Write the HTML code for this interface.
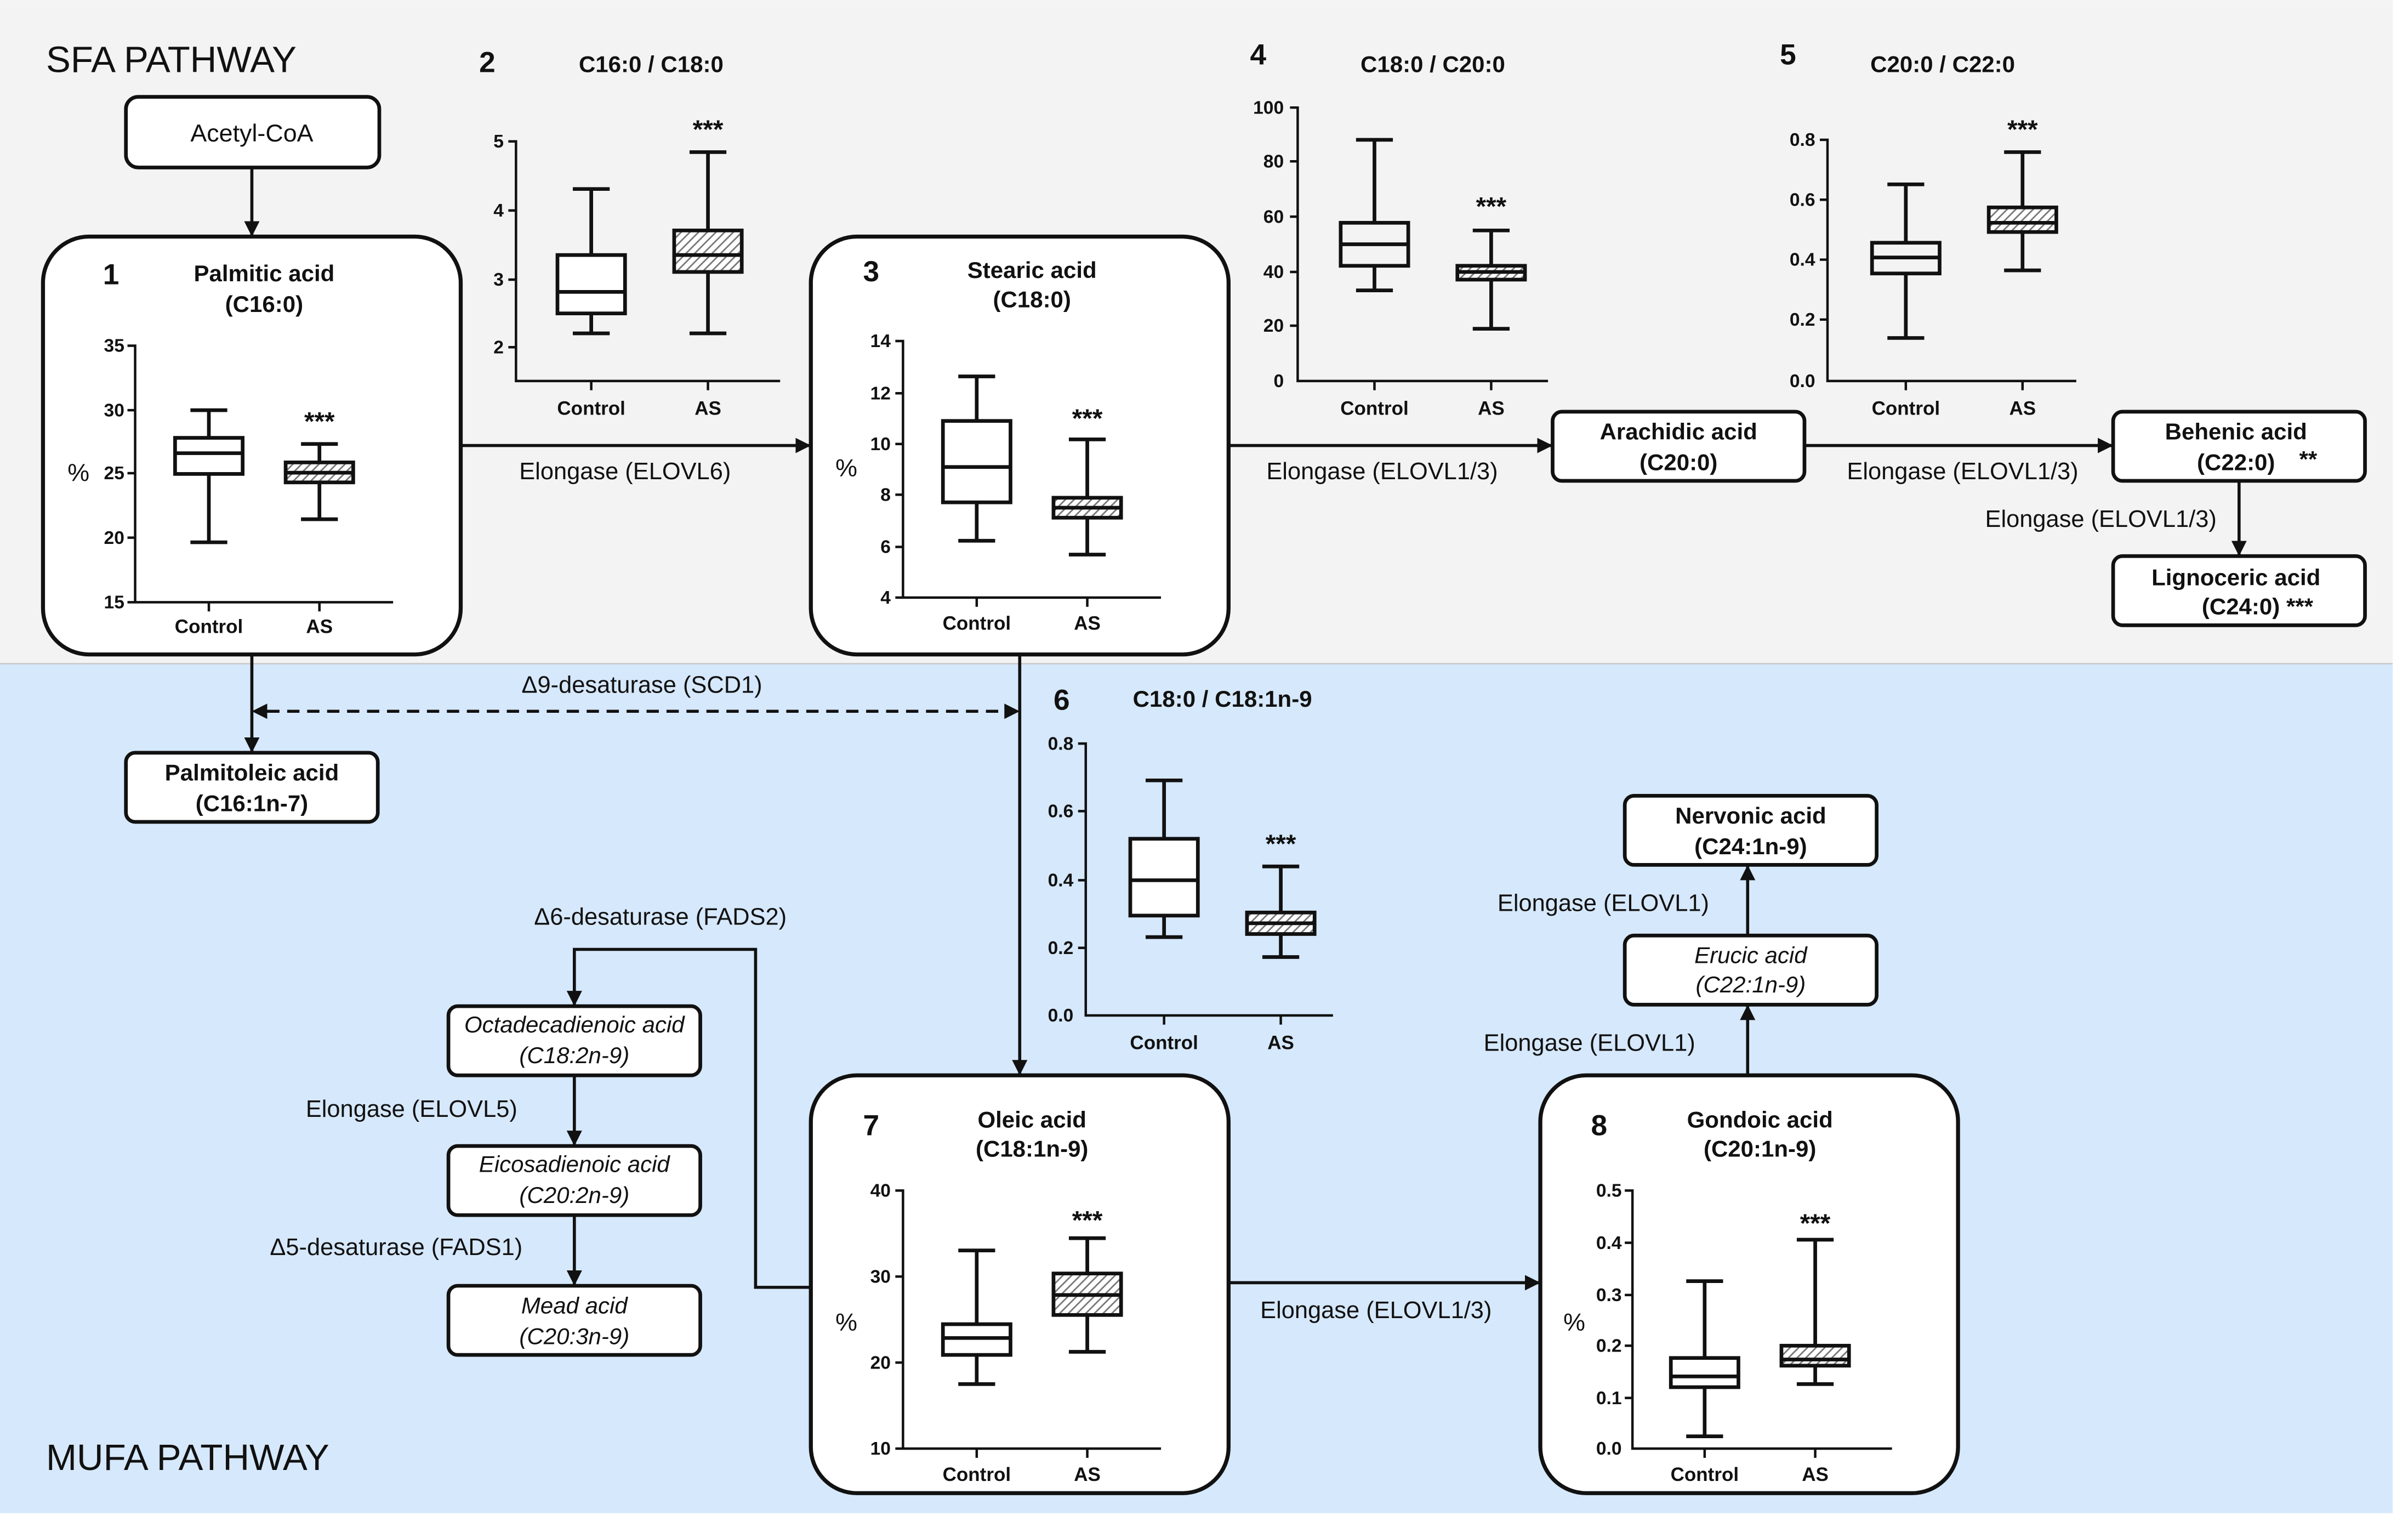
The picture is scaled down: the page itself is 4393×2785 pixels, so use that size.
<!DOCTYPE html>
<html><head><meta charset="utf-8"><style>
html,body{margin:0;padding:0;background:#fff}
svg{display:block}
text{font-family:"Liberation Sans",Arial,sans-serif;fill:#111}
.b{font-weight:bold}
.t{font-size:15px;font-weight:bold;text-anchor:middle}
.n{font-size:19px;font-weight:bold}
.l{font-size:15.5px;text-anchor:middle}
.tk{font-size:12px;font-weight:bold;text-anchor:end}
.xl{font-size:12.5px;font-weight:bold;text-anchor:middle}
.st{font-size:17px;font-weight:bold;text-anchor:middle}
.nd{font-size:15px;font-weight:bold;text-anchor:middle}
.it{font-size:15px;font-style:italic;text-anchor:middle}
.ax{stroke:#111;stroke-width:1.6;fill:none}
.bx{stroke:#111;stroke-width:2.4;fill:none}
.pn{stroke:#111;stroke-width:2.6;fill:#fff}
.nb{stroke:#111;stroke-width:2.4;fill:#fff}
.ln{stroke:#111;stroke-width:2;fill:none}
</style></head><body>
<svg width="4393" height="2785" viewBox="0 0 1568 994" xmlns="http://www.w3.org/2000/svg">
<defs>
<pattern id="h" width="4" height="4" patternUnits="userSpaceOnUse" patternTransform="rotate(45)">
<rect width="4" height="4" fill="#fff"/><line x1="0" y1="0" x2="0" y2="4" stroke="#777" stroke-width="2"/>
</pattern>
<marker id="a" markerWidth="10" markerHeight="10" refX="9" refY="5" orient="auto" markerUnits="userSpaceOnUse">
<path d="M0,0 L10,5 L0,10 z" fill="#111"/></marker>
</defs>
<rect x="0" y="0" width="1558" height="432" fill="#f3f3f3"/>
<rect x="0" y="432" width="1558" height="553" fill="#d6e8fb"/>
<line x1="0" y1="432" x2="1558" y2="432" stroke="#ccc" stroke-width="1"/>

<text x="30" y="47" style="font-size:24px">SFA PATHWAY</text>
<text x="30" y="957" style="font-size:24px">MUFA PATHWAY</text>

<!-- connectors -->
<line class="ln" x1="164" y1="109" x2="164" y2="153" marker-end="url(#a)"/>
<line class="ln" x1="164" y1="426" x2="164" y2="489" marker-end="url(#a)"/>
<line class="ln" x1="174" y1="463" x2="654" y2="463" stroke-dasharray="8,5"/>
<path d="M164,463 L174,458 L174,468 z" fill="#111"/>
<path d="M664,463 L654,458 L654,468 z" fill="#111"/>
<text class="l" x="418" y="451">Δ9-desaturase (SCD1)</text>
<line class="ln" x1="664" y1="426" x2="664" y2="699" marker-end="url(#a)"/>
<line class="ln" x1="300" y1="290" x2="527" y2="290" marker-end="url(#a)"/>
<text class="l" x="407" y="312">Elongase (ELOVL6)</text>
<line class="ln" x1="800" y1="290" x2="1010" y2="290" marker-end="url(#a)"/>
<text class="l" x="900" y="312">Elongase (ELOVL1/3)</text>
<line class="ln" x1="1175" y1="290" x2="1375" y2="290" marker-end="url(#a)"/>
<text class="l" x="1278" y="312">Elongase (ELOVL1/3)</text>
<line class="ln" x1="1458" y1="313" x2="1458" y2="361" marker-end="url(#a)"/>
<text class="l" x="1368" y="343">Elongase (ELOVL1/3)</text>
<line class="ln" x1="800" y1="835" x2="1002" y2="835" marker-end="url(#a)"/>
<text class="l" x="896" y="858">Elongase (ELOVL1/3)</text>
<line class="ln" x1="1138" y1="700" x2="1138" y2="655" marker-end="url(#a)"/>
<line class="ln" x1="1138" y1="609" x2="1138" y2="564" marker-end="url(#a)"/>
<text class="l" x="1035" y="684">Elongase (ELOVL1)</text>
<text class="l" x="1044" y="593">Elongase (ELOVL1)</text>
<path class="ln" d="M528,838 L492,838 L492,618 L374,618 L374,654" marker-end="url(#a)"/>
<text class="l" x="430" y="602">Δ6-desaturase (FADS2)</text>
<line class="ln" x1="374" y1="700" x2="374" y2="745" marker-end="url(#a)"/>
<text class="l" x="268" y="727">Elongase (ELOVL5)</text>
<line class="ln" x1="374" y1="791" x2="374" y2="836" marker-end="url(#a)"/>
<text class="l" x="258" y="817">Δ5-desaturase (FADS1)</text>

<!-- small nodes -->
<rect class="nb" x="82" y="63" width="165" height="46" rx="8"/>
<text class="l" x="164" y="92" style="font-size:16px">Acetyl-CoA</text>
<rect class="nb" x="82" y="490" width="164" height="45" rx="6"/>
<text class="nd" x="164" y="508">Palmitoleic acid</text><text class="nd" x="164" y="528">(C16:1n-7)</text>
<rect class="nb" x="1011" y="268" width="164" height="45" rx="6"/>
<text class="nd" x="1093" y="286">Arachidic acid</text><text class="nd" x="1093" y="306">(C20:0)</text>
<rect class="nb" x="1376" y="268" width="164" height="45" rx="6"/>
<text class="nd" x="1456" y="286">Behenic acid</text><text class="nd" x="1456" y="306">(C22:0)</text><text class="nd" x="1503" y="304">**</text>
<rect class="nb" x="1376" y="362" width="164" height="45" rx="6"/>
<text class="nd" x="1456" y="381">Lignoceric acid</text><text class="nd" x="1470" y="400">(C24:0) ***</text>
<rect class="nb" x="1058" y="518" width="164" height="45" rx="6"/>
<text class="nd" x="1140" y="536">Nervonic acid</text><text class="nd" x="1140" y="556">(C24:1n-9)</text>
<rect class="nb" x="1058" y="609" width="164" height="45" rx="6"/>
<text class="it" x="1140" y="627">Erucic acid</text><text class="it" x="1140" y="646">(C22:1n-9)</text>
<rect class="nb" x="292" y="655" width="164" height="45" rx="6"/>
<text class="it" x="374" y="672">Octadecadienoic acid</text><text class="it" x="374" y="692">(C18:2n-9)</text>
<rect class="nb" x="292" y="746" width="164" height="45" rx="6"/>
<text class="it" x="374" y="763">Eicosadienoic acid</text><text class="it" x="374" y="783">(C20:2n-9)</text>
<rect class="nb" x="292" y="837" width="164" height="45" rx="6"/>
<text class="it" x="374" y="855">Mead acid</text><text class="it" x="374" y="875">(C20:3n-9)</text>

<!-- Panel 1 -->
<rect class="pn" x="28" y="154" width="272" height="272" rx="30"/>
<text class="n" x="67" y="185">1</text>
<text class="t" x="172" y="183">Palmitic acid</text><text class="t" x="172" y="203">(C16:0)</text>
<path class="ax" d="M83,225 H88 V392 H256 M83,267 H88 M83,308 H88 M83,350 H88 M83,392 H88 M136,392 V398 M208,392 V398"/>
<text class="tk" x="81" y="229">35</text><text class="tk" x="81" y="271">30</text><text class="tk" x="81" y="312">25</text><text class="tk" x="81" y="354">20</text><text class="tk" x="81" y="396">15</text>
<text x="44" y="313" style="font-size:16px">%</text>
<text class="xl" x="136" y="412">Control</text><text class="xl" x="208" y="412">AS</text>
<g class="bx"><path d="M124,267 H148 M136,267 V285 M136,308.5 V353 M124,353 H148"/><rect x="114" y="285" width="44" height="23.5"/><line x1="114" y1="295" x2="158" y2="295"/></g>
<g class="bx"><path d="M196,289 H220 M208,289 V301 M208,314 V338 M196,338 H220"/><rect x="186" y="301" width="44" height="13" fill="url(#h)"/><line x1="186" y1="307.7" x2="230" y2="307.7"/></g>
<text class="st" x="208" y="280">***</text>

<!-- Chart 2 -->
<text class="n" x="312" y="47">2</text><text class="t" x="424" y="47">C16:0 / C18:0</text>
<path class="ax" d="M331,92 H336 V248 H508 M331,137 H336 M331,182 H336 M331,226 H336 M385,248 V254 M461,248 V254"/>
<text class="tk" x="328" y="96">5</text><text class="tk" x="328" y="141">4</text><text class="tk" x="328" y="186">3</text><text class="tk" x="328" y="230">2</text>
<text class="xl" x="385" y="270">Control</text><text class="xl" x="461" y="270">AS</text>
<g class="bx"><path d="M373,123 H397 M385,123 V166 M385,204 V217 M373,217 H397"/><rect x="363" y="166" width="44" height="38" fill="#fff"/><line x1="363" y1="190" x2="407" y2="190"/></g>
<g class="bx"><path d="M449,99 H473 M461,99 V150 M461,177 V217 M449,217 H473"/><rect x="439" y="150" width="44" height="27" fill="url(#h)"/><line x1="439" y1="166" x2="483" y2="166"/></g>
<text class="st" x="461" y="90">***</text>

<!-- Panel 3 -->
<rect class="pn" x="528" y="154" width="272" height="272" rx="30"/>
<text class="n" x="562" y="183">3</text>
<text class="t" x="672" y="181">Stearic acid</text><text class="t" x="672" y="200">(C18:0)</text>
<path class="ax" d="M583,222 H588 V389 H756 M583,256 H588 M583,289 H588 M583,322 H588 M583,356 H588 M583,389 H588 M636,389 V395 M708,389 V395"/>
<text class="tk" x="580" y="226">14</text><text class="tk" x="580" y="260">12</text><text class="tk" x="580" y="293">10</text><text class="tk" x="580" y="326">8</text><text class="tk" x="580" y="360">6</text><text class="tk" x="580" y="393">4</text>
<text x="544" y="310" style="font-size:16px">%</text>
<text class="xl" x="636" y="410">Control</text><text class="xl" x="708" y="410">AS</text>
<g class="bx"><path d="M624,245 H648 M636,245 V274 M636,327 V352 M624,352 H648"/><rect x="614" y="274" width="44" height="53"/><line x1="614" y1="304" x2="658" y2="304"/></g>
<g class="bx"><path d="M696,286 H720 M708,286 V324 M708,337 V361 M696,361 H720"/><rect x="686" y="324" width="44" height="13" fill="url(#h)"/><line x1="686" y1="330.5" x2="730" y2="330.5"/></g>
<text class="st" x="708" y="278">***</text>

<!-- Chart 4 -->
<text class="n" x="814" y="42">4</text><text class="t" x="933" y="47">C18:0 / C20:0</text>
<path class="ax" d="M840,70 H845 V248 H1008 M840,105 H845 M840,141 H845 M840,177 H845 M840,212 H845 M895,248 V254 M971,248 V254"/>
<text class="tk" x="836" y="74">100</text><text class="tk" x="836" y="109">80</text><text class="tk" x="836" y="145">60</text><text class="tk" x="836" y="181">40</text><text class="tk" x="836" y="216">20</text><text class="tk" x="836" y="252">0</text>
<text class="xl" x="895" y="270">Control</text><text class="xl" x="971" y="270">AS</text>
<g class="bx"><path d="M883,91 H907 M895,91 V145 M895,173 V189 M883,189 H907"/><rect x="873" y="145" width="44" height="28"/><line x1="873" y1="159" x2="917" y2="159"/></g>
<g class="bx"><path d="M959,150 H983 M971,150 V173 M971,182 V214 M959,214 H983"/><rect x="949" y="173" width="44" height="9" fill="url(#h)"/><line x1="949" y1="177" x2="993" y2="177"/></g>
<text class="st" x="971" y="140">***</text>

<!-- Chart 5 -->
<text class="n" x="1159" y="42">5</text><text class="t" x="1265" y="47">C20:0 / C22:0</text>
<path class="ax" d="M1185,91 H1190 V248 H1352 M1185,130 H1190 M1185,169 H1190 M1185,208 H1190 M1241,248 V254 M1317,248 V254"/>
<text class="tk" x="1182" y="95">0.8</text><text class="tk" x="1182" y="134">0.6</text><text class="tk" x="1182" y="173">0.4</text><text class="tk" x="1182" y="212">0.2</text><text class="tk" x="1182" y="252">0.0</text>
<text class="xl" x="1241" y="270">Control</text><text class="xl" x="1317" y="270">AS</text>
<g class="bx"><path d="M1229,120 H1253 M1241,120 V158 M1241,178 V220 M1229,220 H1253"/><rect x="1219" y="158" width="44" height="20"/><line x1="1219" y1="167.6" x2="1263" y2="167.6"/></g>
<g class="bx"><path d="M1305,99 H1329 M1317,99 V135 M1317,151 V176 M1305,176 H1329"/><rect x="1295" y="135" width="44" height="16" fill="url(#h)"/><line x1="1295" y1="145" x2="1339" y2="145"/></g>
<text class="st" x="1317" y="90">***</text>

<!-- Chart 6 -->
<text class="n" x="686" y="462">6</text><text class="t" x="796" y="460">C18:0 / C18:1n-9</text>
<path class="ax" d="M702,484 H707 V661 H868 M702,528 H707 M702,573 H707 M702,617 H707 M758,661 V667 M834,661 V667"/>
<text class="tk" x="699" y="488">0.8</text><text class="tk" x="699" y="532">0.6</text><text class="tk" x="699" y="577">0.4</text><text class="tk" x="699" y="621">0.2</text><text class="tk" x="699" y="665">0.0</text>
<text class="xl" x="758" y="683">Control</text><text class="xl" x="834" y="683">AS</text>
<g class="bx"><path d="M746,508 H770 M758,508 V546 M758,596 V610 M746,610 H770"/><rect x="736" y="546" width="44" height="50" fill="#fff"/><line x1="736" y1="573" x2="780" y2="573"/></g>
<g class="bx"><path d="M822,564 H846 M834,564 V594 M834,608 V623 M822,623 H846"/><rect x="812" y="594" width="44" height="14" fill="url(#h)"/><line x1="812" y1="601" x2="856" y2="601"/></g>
<text class="st" x="834" y="555">***</text>

<!-- Panel 7 -->
<rect class="pn" x="528" y="700" width="272" height="272" rx="30"/>
<text class="n" x="562" y="739">7</text>
<text class="t" x="672" y="734">Oleic acid</text><text class="t" x="672" y="753">(C18:1n-9)</text>
<path class="ax" d="M583,775 H588 V943 H756 M583,831 H588 M583,887 H588 M583,943 H588 M636,943 V949 M708,943 V949"/>
<text class="tk" x="580" y="779">40</text><text class="tk" x="580" y="835">30</text><text class="tk" x="580" y="891">20</text><text class="tk" x="580" y="947">10</text>
<text x="544" y="866" style="font-size:16px">%</text>
<text class="xl" x="636" y="964">Control</text><text class="xl" x="708" y="964">AS</text>
<g class="bx"><path d="M624,814 H648 M636,814 V862 M636,882 V901 M624,901 H648"/><rect x="614" y="862" width="44" height="20"/><line x1="614" y1="871" x2="658" y2="871"/></g>
<g class="bx"><path d="M696,806 H720 M708,806 V829 M708,856 V880 M696,880 H720"/><rect x="686" y="829" width="44" height="27" fill="url(#h)"/><line x1="686" y1="843" x2="730" y2="843"/></g>
<text class="st" x="708" y="800">***</text>

<!-- Panel 8 -->
<rect class="pn" x="1003" y="700" width="272" height="272" rx="30"/>
<text class="n" x="1036" y="739">8</text>
<text class="t" x="1146" y="734">Gondoic acid</text><text class="t" x="1146" y="753">(C20:1n-9)</text>
<path class="ax" d="M1058,775 H1063 V943 H1232 M1058,809 H1063 M1058,843 H1063 M1058,876 H1063 M1058,910 H1063 M1110,943 V949 M1182,943 V949"/>
<text class="tk" x="1056" y="779">0.5</text><text class="tk" x="1056" y="813">0.4</text><text class="tk" x="1056" y="847">0.3</text><text class="tk" x="1056" y="880">0.2</text><text class="tk" x="1056" y="914">0.1</text><text class="tk" x="1056" y="947">0.0</text>
<text x="1018" y="866" style="font-size:16px">%</text>
<text class="xl" x="1110" y="964">Control</text><text class="xl" x="1182" y="964">AS</text>
<g class="bx"><path d="M1098,834 H1122 M1110,834 V884 M1110,903 V935 M1098,935 H1122"/><rect x="1088" y="884" width="44" height="19"/><line x1="1088" y1="896" x2="1132" y2="896"/></g>
<g class="bx"><path d="M1170,807 H1194 M1182,807 V876 M1182,889 V901 M1170,901 H1194"/><rect x="1160" y="876" width="44" height="13" fill="url(#h)"/><line x1="1160" y1="885" x2="1204" y2="885"/></g>
<text class="st" x="1182" y="802">***</text>
</svg>
</body></html>
